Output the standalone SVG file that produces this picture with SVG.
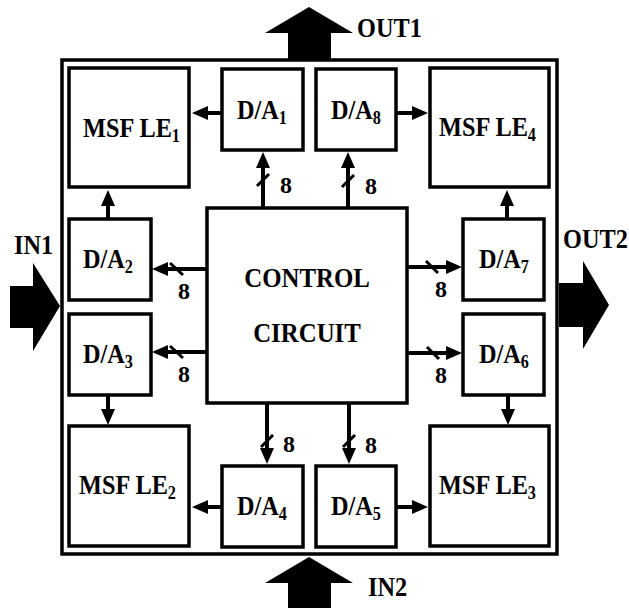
<svg xmlns="http://www.w3.org/2000/svg" width="629" height="608" viewBox="0 0 629 608">
<style>
.box{fill:#fff;stroke:#000;stroke-width:3.5}
.frame{fill:none;stroke:#000;stroke-width:3.5}
text{font-family:'Liberation Serif','DejaVu Serif',serif;font-weight:700;font-size:27px;fill:#000}
.sub{font-size:18px}
.n{font-size:24px}
.w{stroke:#000;stroke-width:4;fill:none}
.sl{stroke:#000;stroke-width:3;fill:none}
.big{fill:#000;stroke:none}
</style>
<defs>
<marker id="ah" viewBox="0 0 16 14" refX="8" refY="7" markerWidth="16" markerHeight="14" markerUnits="userSpaceOnUse" orient="auto">
<path d="M0,0 L16,7 L0,14 z" fill="#000"/>
</marker>
</defs>
<rect class="frame" x="62" y="60" width="495" height="494"/>
<g id="out1"><polygon class="big" points="288,60 288,33 265,33 309,7 353,33 331,33 331,60"/><text transform="matrix(0.9 0 0 1 357 37)">OUT1</text></g>
<g id="in2"><polygon class="big" points="288,608 288,583 265,583 309,557 353,583 331,583 331,608"/><text transform="matrix(0.9 0 0 1 368 596)">IN2</text></g>
<g id="in1"><polygon class="big" points="10,286 33,286 33,263 60,306 33,351 33,328 10,328"/><text transform="matrix(0.9 0 0 1 14 254)">IN1</text></g>
<g id="out2"><polygon class="big" points="559,283 583,283 583,261 609,305 583,349 583,327 559,327"/><text transform="matrix(0.9 0 0 1 563 248)">OUT2</text></g>
<g id="le1"><rect class="box" x="69" y="68" width="120" height="119"/><text transform="matrix(0.9 0 0 1 83 137)">MSF LE<tspan class="sub" dy="5">1</tspan></text></g>
<g id="le4"><rect class="box" x="430" y="68" width="119" height="119"/><text transform="matrix(0.9 0 0 1 439 136)">MSF LE<tspan class="sub" dy="5">4</tspan></text></g>
<g id="le2"><rect class="box" x="69" y="426" width="120" height="120"/><text transform="matrix(0.9 0 0 1 79 494)">MSF LE<tspan class="sub" dy="5">2</tspan></text></g>
<g id="le3"><rect class="box" x="430" y="426" width="119" height="120"/><text transform="matrix(0.9 0 0 1 439 494)">MSF LE<tspan class="sub" dy="5">3</tspan></text></g>
<g id="da1"><rect class="box" x="222" y="69" width="81" height="81"/><text transform="matrix(0.9 0 0 1 237 119)">D/A<tspan class="sub" dy="5">1</tspan></text></g>
<g id="da8"><rect class="box" x="316" y="69" width="80" height="81"/><text transform="matrix(0.9 0 0 1 331 119)">D/A<tspan class="sub" dy="5">8</tspan></text></g>
<g id="da2"><rect class="box" x="69" y="219" width="82" height="81"/><text transform="matrix(0.9 0 0 1 83 268)">D/A<tspan class="sub" dy="5">2</tspan></text></g>
<g id="da3"><rect class="box" x="69" y="314" width="82" height="81"/><text transform="matrix(0.9 0 0 1 83 363)">D/A<tspan class="sub" dy="5">3</tspan></text></g>
<g id="da7"><rect class="box" x="463" y="219" width="81" height="81"/><text transform="matrix(0.9 0 0 1 479 268)">D/A<tspan class="sub" dy="5">7</tspan></text></g>
<g id="da6"><rect class="box" x="463" y="314" width="81" height="81"/><text transform="matrix(0.9 0 0 1 479 363)">D/A<tspan class="sub" dy="5">6</tspan></text></g>
<g id="da4"><rect class="box" x="222" y="466" width="81" height="81"/><text transform="matrix(0.9 0 0 1 237 515)">D/A<tspan class="sub" dy="5">4</tspan></text></g>
<g id="da5"><rect class="box" x="316" y="466" width="80" height="81"/><text transform="matrix(0.9 0 0 1 331 515)">D/A<tspan class="sub" dy="5">5</tspan></text></g>
<g id="ctrl"><rect class="box" x="207" y="208" width="200" height="195"/><text transform="matrix(0.92 0 0 1 307 287)" text-anchor="middle">CONTROL</text><text transform="matrix(0.92 0 0 1 307 342)" text-anchor="middle">CIRCUIT</text></g>
<g id="connectors">
<line class="w" x1="222" y1="113" x2="200" y2="113" marker-end="url(#ah)"/>
<line class="w" x1="396" y1="113" x2="420" y2="113" marker-end="url(#ah)"/>
<line class="w" x1="222" y1="507" x2="200" y2="507" marker-end="url(#ah)"/>
<line class="w" x1="396" y1="507" x2="420" y2="507" marker-end="url(#ah)"/>
<line class="w" x1="108" y1="219" x2="108" y2="198" marker-end="url(#ah)"/>
<line class="w" x1="507" y1="219" x2="507" y2="198" marker-end="url(#ah)"/>
<line class="w" x1="108" y1="395" x2="108" y2="417" marker-end="url(#ah)"/>
<line class="w" x1="508" y1="395" x2="508" y2="417" marker-end="url(#ah)"/>
<line class="w" x1="263" y1="208" x2="263" y2="160" marker-end="url(#ah)"/>
<line class="w" x1="348" y1="208" x2="348" y2="160" marker-end="url(#ah)"/>
<line class="w" x1="267" y1="403" x2="267" y2="456" marker-end="url(#ah)"/>
<line class="w" x1="349" y1="403" x2="349" y2="456" marker-end="url(#ah)"/>
<line class="w" x1="207" y1="269" x2="160" y2="269" marker-end="url(#ah)"/>
<line class="w" x1="207" y1="352" x2="160" y2="352" marker-end="url(#ah)"/>
<line class="w" x1="407" y1="267" x2="454" y2="267" marker-end="url(#ah)"/>
<line class="w" x1="407" y1="353" x2="454" y2="353" marker-end="url(#ah)"/>
<line class="sl" x1="257" y1="186" x2="269" y2="174"/>
<line class="sl" x1="342" y1="187" x2="354" y2="175"/>
<line class="sl" x1="261" y1="447" x2="273" y2="435"/>
<line class="sl" x1="343" y1="447" x2="355" y2="435"/>
<line class="sl" x1="170" y1="263" x2="183" y2="275"/>
<line class="sl" x1="170" y1="346" x2="183" y2="358"/>
<line class="sl" x1="426" y1="261" x2="438" y2="273"/>
<line class="sl" x1="427" y1="347" x2="439" y2="359"/>
<text class="n" x="280" y="193">8</text>
<text class="n" x="365" y="194">8</text>
<text class="n" x="283" y="452">8</text>
<text class="n" x="365" y="453">8</text>
<text class="n" x="178" y="299">8</text>
<text class="n" x="178" y="382">8</text>
<text class="n" x="435" y="297">8</text>
<text class="n" x="435" y="383">8</text>
</g>
</svg>
